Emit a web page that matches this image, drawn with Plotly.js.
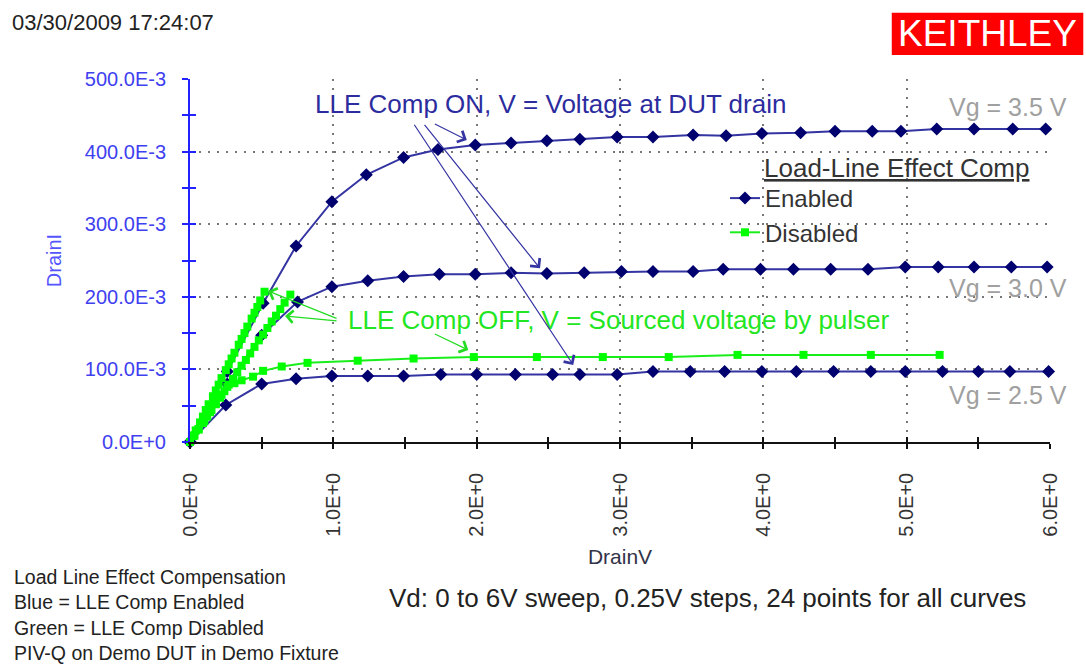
<!DOCTYPE html>
<html><head><meta charset="utf-8">
<script src="https://cdn.plot.ly/plotly-3.0.1.min.js"></script>
<style>html,body{margin:0;padding:0;background:#fff}#chart{width:1086px;height:664px}</style>
</head><body><div id="chart"></div>
<script>
// ---- Data (DrainV in V, DrainI in A) ----
// LLE Comp Enabled (V = voltage at DUT drain)
const vdEn35 = [0, 0.26, 0.51, 0.74, 0.99, 1.23, 1.49, 1.73, 1.99, 2.24, 2.49, 2.72, 2.98, 3.23, 3.51, 3.74, 3.99, 4.26, 4.50, 4.76, 4.96, 5.21, 5.47, 5.74, 5.97];
const idEn35 = [0, 0.097, 0.191, 0.270, 0.331, 0.368, 0.392, 0.403, 0.409, 0.412, 0.415, 0.417, 0.420, 0.420, 0.423, 0.422, 0.425, 0.426, 0.428, 0.428, 0.428, 0.431, 0.431, 0.431, 0.431];
const vdEn30 = [0, 0.26, 0.50, 0.75, 0.99, 1.24, 1.49, 1.74, 1.99, 2.24, 2.49, 2.75, 3.01, 3.23, 3.51, 3.72, 3.98, 4.21, 4.47, 4.73, 4.99, 5.22, 5.47, 5.73, 5.98];
const idEn30 = [0, 0.080, 0.147, 0.193, 0.214, 0.222, 0.228, 0.231, 0.231, 0.233, 0.232, 0.233, 0.235, 0.235, 0.235, 0.238, 0.238, 0.238, 0.238, 0.238, 0.241, 0.241, 0.241, 0.241, 0.241];
const vdEn25 = [0, 0.25, 0.50, 0.74, 0.99, 1.24, 1.49, 1.75, 2.00, 2.27, 2.53, 2.72, 2.98, 3.23, 3.49, 3.73, 3.99, 4.23, 4.49, 4.75, 4.99, 5.25, 5.50, 5.72, 5.99];
const idEn25 = [0, 0.051, 0.080, 0.087, 0.091, 0.091, 0.091, 0.093, 0.093, 0.093, 0.093, 0.093, 0.093, 0.097, 0.097, 0.097, 0.097, 0.097, 0.097, 0.097, 0.097, 0.097, 0.097, 0.097, 0.097];
// LLE Comp Disabled (V = sourced voltage by pulser)
const vdDis35 = [0, 0.02, 0.04, 0.07, 0.09, 0.11, 0.13, 0.16, 0.18, 0.20, 0.22, 0.25, 0.27, 0.29, 0.31, 0.34, 0.36, 0.38, 0.40, 0.43, 0.45, 0.47, 0.49, 0.52];
const idDis35 = [0, 0.008, 0.016, 0.027, 0.035, 0.044, 0.052, 0.063, 0.071, 0.079, 0.088, 0.099, 0.107, 0.115, 0.123, 0.134, 0.142, 0.150, 0.159, 0.170, 0.178, 0.186, 0.195, 0.207];
const vdDis30 = [0, 0.03, 0.06, 0.09, 0.12, 0.15, 0.18, 0.21, 0.24, 0.27, 0.30, 0.33, 0.36, 0.39, 0.42, 0.45, 0.48, 0.51, 0.54, 0.57, 0.60, 0.63, 0.66, 0.70];
const idDis30 = [0, 0.009, 0.017, 0.026, 0.035, 0.044, 0.052, 0.061, 0.070, 0.079, 0.087, 0.096, 0.105, 0.113, 0.122, 0.131, 0.140, 0.148, 0.157, 0.166, 0.174, 0.183, 0.192, 0.203];
const vdDis25 = [0, 0.03, 0.06, 0.10, 0.14, 0.18, 0.22, 0.26, 0.31, 0.36, 0.44, 0.51, 0.64, 0.82, 1.17, 1.56, 1.98, 2.42, 2.88, 3.34, 3.82, 4.28, 4.75, 5.23];
const idDis25 = [0, 0.009, 0.018, 0.029, 0.041, 0.053, 0.065, 0.076, 0.081, 0.085, 0.090, 0.098, 0.104, 0.109, 0.112, 0.115, 0.117, 0.117, 0.117, 0.117, 0.120, 0.120, 0.120, 0.120];

// ---- Tick labels ----
const xTickVals = [0, 1, 2, 3, 4, 5, 6];
const xTickText = ['0.0E+0', '1.0E+0', '2.0E+0', '3.0E+0', '4.0E+0', '5.0E+0', '6.0E+0'];
const xMinorVals = [0, 0.5, 1, 1.5, 2, 2.5, 3, 3.5, 4, 4.5, 5, 5.5, 6];
const yTickVals = [0, 0.1, 0.2, 0.3, 0.4, 0.5];
const yTickText = ['0.0E+0', '100.0E-3', '200.0E-3', '300.0E-3', '400.0E-3', '500.0E-3'];
const yGridVals = [0.1, 0.2, 0.3, 0.4];
const vgLabels = ['Vg = 3.5 V', 'Vg = 3.0 V', 'Vg = 2.5 V'];

const FONT = 'Liberation Sans, Arial, sans-serif';
const BLUE_LINE = '#3434a2', BLUE_MK = '#00006e';
const GREEN = '#1aee1a';

function enTrace(x, y, show) {
  return {x, y, type: 'scatter', mode: 'lines+markers', name: 'Enabled', legendgroup: 'en', showlegend: show,
    line: {color: BLUE_LINE, width: 2}, marker: {symbol: 'diamond', size: 10, color: BLUE_MK},
    cliponaxis: false, hoverinfo: 'x+y'};
}
function disTrace(x, y, show) {
  return {x, y, type: 'scatter', mode: 'lines+markers', name: 'Disabled', legendgroup: 'dis', showlegend: show,
    line: {color: GREEN, width: 2}, marker: {symbol: 'square', size: 8, color: '#00ff00'},
    cliponaxis: false, hoverinfo: 'x+y'};
}
const data = [
  enTrace(vdEn35, idEn35, true), enTrace(vdEn30, idEn30, false), enTrace(vdEn25, idEn25, false),
  disTrace(vdDis35, idDis35, true), disTrace(vdDis30, idDis30, false), disTrace(vdDis25, idDis25, false),
  // carrier for the overlay axes (crossing ticks + horizontal grid); draws nothing
  {x: [], y: [], type: 'scatter', mode: 'markers', xaxis: 'x2', yaxis: 'y2', showlegend: false, hoverinfo: 'skip'}
];

const dataLabel = (text, x, y, color, size) => ({text, x, y, xref: 'x', yref: 'y', xanchor: 'left', yanchor: 'middle',
  showarrow: false, font: {family: FONT, size, color}});
const arrow = (x, y, ax, ay, color) => ({text: '', x, y, ax, ay, xref: 'x', yref: 'y', axref: 'x', ayref: 'y',
  showarrow: true, arrowhead: 4, arrowsize: 2, arrowwidth: 1.2, arrowcolor: color, standoff: 0, startstandoff: 0});

const annotations = [
  dataLabel('LLE Comp ON, V = Voltage at DUT drain', 0.855, 0.4656, '#2c2c9e', 26),
  dataLabel('LLE Comp OFF, V = Sourced voltage by pulser', 1.09, 0.168, '#22e622', 26),
  dataLabel(vgLabels[0], 5.279, 0.4618, '#a0a0a0', 25),
  dataLabel(vgLabels[1], 5.279, 0.2117, '#a0a0a0', 25),
  dataLabel(vgLabels[2], 5.279, 0.0647, '#a0a0a0', 25),
  dataLabel('<u>Load-Line Effect Comp</u>', 3.99, 0.377, '#333333', 26),
  arrow(2.674, 0.1061, 1.558, 0.439, '#3434a2'),
  arrow(2.442, 0.2393, 1.628, 0.439, '#3434a2'),
  arrow(1.931, 0.416, 1.698, 0.439, '#3434a2'),
  arrow(0.544, 0.208, 1.033, 0.1694, '#22dd22'),
  arrow(0.663, 0.1736, 1.033, 0.1667, '#22dd22'),
  arrow(1.942, 0.1267, 1.698, 0.1497, '#22dd22'),
  {text: '03/30/2009 17:24:07', xref: 'paper', yref: 'paper', x: -0.209, y: 1.157, xanchor: 'left', yanchor: 'middle',
    showarrow: false, font: {family: FONT, size: 22, color: '#222'}},
  {text: 'KEITHLEY', xref: 'paper', yref: 'paper', x: 0.9273, y: 1.124, xanchor: 'center', yanchor: 'middle',
    showarrow: false, font: {family: FONT, size: 37, color: '#ffffff'}},
  {text: 'Load Line Effect Compensation<br>Blue = LLE Comp Enabled<br>Green = LLE Comp Disabled<br>PIV-Q on Demo DUT in Demo Fixture',
    xref: 'paper', yref: 'paper', x: -0.2065, y: -0.4765, xanchor: 'left', yanchor: 'middle', align: 'left',
    showarrow: false, font: {family: FONT, size: 19.5, color: '#222'}},
  {text: 'Vd: 0 to 6V sweep, 0.25V steps, 24 points for all curves', xref: 'paper', yref: 'paper',
    x: 0.2295, y: -0.4298, xanchor: 'left', yanchor: 'middle', showarrow: false,
    font: {family: FONT, size: 26, color: '#222'}}
];

const layout = {
  width: 1086, height: 664,
  margin: {l: 190, r: 36, t: 79, b: 222},
  paper_bgcolor: '#ffffff', plot_bgcolor: '#ffffff',
  font: {family: FONT},
  showlegend: true,
  legend: {x: (725 - 190) / 860, y: (442 - 176) / 363, xanchor: 'left', yanchor: 'top',
    bgcolor: 'rgba(0,0,0,0)', font: {family: FONT, size: 24, color: '#333'}, tracegroupgap: 0},
  xaxis: {
    range: [0, 6], showline: true, linecolor: '#111', linewidth: 1.5, zeroline: false,
    tickvals: xTickVals, ticktext: xTickText, tickangle: -90,
    ticks: 'outside', ticklen: 5, tickcolor: '#111', tickwidth: 1.5, ticklabelstandoff: 16,
    minor: {dtick: 0.5, ticks: 'outside', ticklen: 5, tickcolor: '#111', tickwidth: 1.5, showgrid: false},
    tickfont: {family: FONT, size: 20, color: '#333'},
    showgrid: true, gridcolor: '#777', gridwidth: 1.5, griddash: '2px,7px',
    title: {text: 'DrainV', font: {family: FONT, size: 21, color: '#333348'}, standoff: 14}
  },
  xaxis2: {
    overlaying: 'x', anchor: 'y2', side: 'bottom', range: [0, 6], showline: false, zeroline: false, showgrid: false,
    tickvals: xMinorVals, ticks: 'inside', ticklen: 5,
    tickcolor: '#111', tickwidth: 1.5, showticklabels: false
  },
  yaxis: {
    range: [0, 0.5], showline: true, linecolor: '#2222ff', linewidth: 2, zeroline: false,
    tickvals: yTickVals, ticktext: yTickText,
    ticks: 'outside', ticklen: 6, tickcolor: '#2222ff', tickwidth: 2, ticklabelstandoff: 12,
    minor: {dtick: 0.05, ticks: 'outside', ticklen: 6, tickcolor: '#2222ff', tickwidth: 2, showgrid: false},
    tickfont: {family: FONT, size: 20, color: '#4040f0'},
    showgrid: false,
    title: {text: 'DrainI', font: {family: FONT, size: 20, color: '#5555ff'}, standoff: 18}
  },
  yaxis2: {
    overlaying: 'y', anchor: 'x2', side: 'left', range: [0, 0.5], showline: false, zeroline: false,
    tickvals: yGridVals, ticks: 'inside', ticklen: 6, tickcolor: '#2222ff', tickwidth: 2, showticklabels: false,
    minor: {dtick: 0.05, ticks: 'inside', ticklen: 6, tickcolor: '#2222ff', tickwidth: 2, showgrid: false},
    showgrid: true, gridcolor: '#777', gridwidth: 1.5, griddash: '2px,7px'
  },
  shapes: [
    {type: 'rect', xref: 'paper', yref: 'paper', x0: 0.816, x1: 1.0387, y0: 1.0661, y1: 1.1827,
      fillcolor: '#ff0000', line: {width: 0}, layer: 'below'}
  ],
  annotations
};

Plotly.newPlot('chart', data, layout, {displayModeBar: false});
</script></body></html>
